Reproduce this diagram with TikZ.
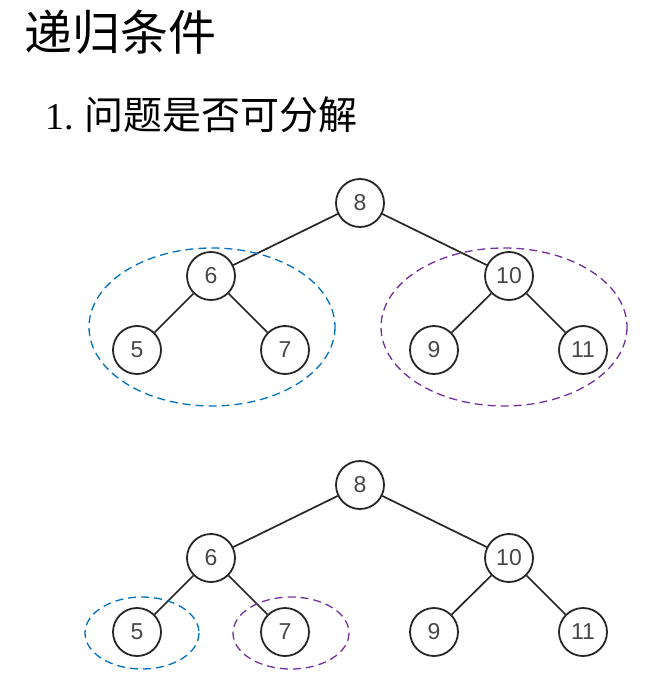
\documentclass[tikz,border=0pt]{standalone}
\usepackage{fontspec}
\setmainfont{Liberation Serif}
\setsansfont{Liberation Sans}
\newfontfamily\cjk{Noto Sans CJK SC}
\usetikzlibrary{positioning}
\definecolor{cblue}{HTML}{0070C0}
\definecolor{cpurple}{HTML}{7030A0}
\definecolor{cline}{HTML}{262626}
\tikzset{
  vertex/.style={circle, draw=cline, line width=1.8pt, minimum size=48pt, inner sep=0pt,
    font=\sffamily\fontsize{23}{23}\selectfont, text=black!72},
  link/.style={draw=cline, line width=1.7pt},
  subtree/.style={draw=#1, dash pattern=on 8pt off 5pt, line width=1.3pt},
  heading/.style={anchor=west, inner sep=0pt, font=\cjk\fontsize{48}{48}\selectfont},
  item/.style={anchor=west, inner sep=0pt, font=\fontsize{38}{38}\selectfont},
}

\begin{document}
\begin{tikzpicture}[x=1pt, y=-1pt]
  \useasboundingbox (0,0) rectangle (656,687);
  % headings
  \node[heading] (title) at (24,32) {递归条件};
  \node[item] (point) at (45,115) {1.\hspace{11pt}{\cjk\fontsize{39}{39}\selectfont 问题是否可分解}};
  % the same tree twice
  \foreach \t/\dy in {a/0, b/282} {
    \begin{scope}[shift={(0,\dy)}]
      \node[vertex] (\t8) at (360,203) {8};
      \node[vertex] (\t6) at (211,276) {6};
      \node[vertex] (\t10) at (509,276) {10};
      \node[vertex] (\t5) at (137,350) {5};
      \node[vertex] (\t7) at (285,350) {7};
      \node[vertex] (\t9) at (434,350) {9};
      \node[vertex] (\t11) at (583,350) {11};
      \draw[link] (\t8) -- (\t6);
      \draw[link] (\t8) -- (\t10);
      \draw[link] (\t6) -- (\t5);
      \draw[link] (\t6) -- (\t7);
      \draw[link] (\t10) -- (\t9);
      \draw[link] (\t10) -- (\t11);
    \end{scope}
  }
  % sub-problems
  \draw[subtree=cblue] (212,327) ellipse (123 and 79);
  \draw[subtree=cpurple] (504,327) ellipse (123 and 79);
  \draw[subtree=cblue] (142,633) ellipse (57 and 36);
  \draw[subtree=cpurple] (291,633) ellipse (58 and 36);
\end{tikzpicture}
\end{document}
